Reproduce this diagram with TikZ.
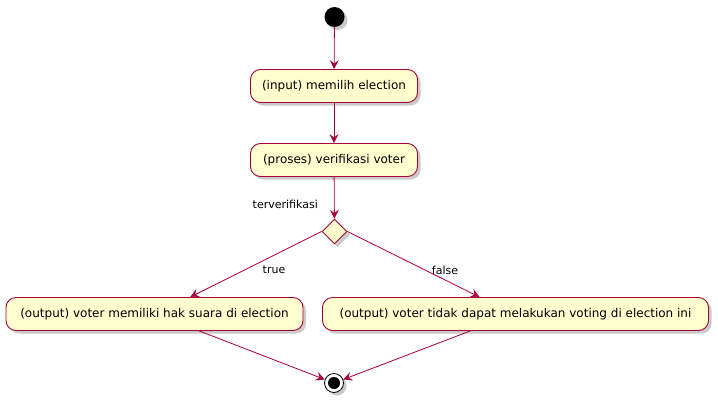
\documentclass[tikz,border=0pt]{standalone}
\usepackage{fontspec}
\setmainfont{DejaVu Sans}
\usetikzlibrary{arrows.meta,shapes.geometric,shadows,calc}
\definecolor{pborder}{HTML}{A80036}
\definecolor{pfill}{HTML}{FEFECE}
\tikzset{
  shad/.style={drop shadow={shadow xshift=3pt,shadow yshift=-3pt,fill=black!35,opacity=0.6}},
  act/.style={draw=pborder,fill=pfill,rounded corners=10pt,line width=0.9pt,shad,
    font=\fontsize{12}{14}\selectfont,inner sep=0pt,minimum height=33pt},
  dec/.style={diamond,draw=pborder,fill=pfill,line width=0.9pt,shad,inner sep=0pt,
    minimum width=25pt,minimum height=25pt},
  flow/.style={draw=pborder,line width=0.8pt,-{Stealth[length=9pt,width=9pt,inset=3.5pt]}},
  lbl/.style={font=\fontsize{11}{13}\selectfont,inner sep=0pt}
}
\begin{document}
\begin{tikzpicture}[x=1pt,y=-1pt]
\useasboundingbox (0,0) rectangle (718,402);
\node[circle,fill=black,inner sep=0pt,minimum size=20pt,shad] (s) at (334.5,17) {};
\node[act,minimum width=167pt] (b1) at (334,86) {(input) memilih election};
\node[act,minimum width=167pt] (b2) at (334,160) {(proses) verifikasi voter};
\node[dec] (d) at (334.5,231.5) {};
\node[act,minimum width=297pt] (b3) at (154.5,314) {(output) voter memiliki hak suara di election};
\node[act,minimum width=386pt] (b4) at (515.5,314) {(output) voter tidak dapat melakukan voting di election ini};
\node[circle,draw=black,fill=white,line width=0.8pt,inner sep=0pt,minimum size=19pt,shad] (e) at (334,383) {};
\node[circle,fill=black,inner sep=0pt,minimum size=12pt] (ei) at (e) {};
\node[lbl,anchor=east] (tv) at (318,204) {terverifikasi};
\node[lbl] (lt) at (274,270) {true};
\node[lbl] (lf) at (445,270) {false};
\draw[flow] (s) -- (b1);
\draw[flow] (b1) -- (b2);
\draw[flow] (b2) -- (d);
\draw[flow] (d.west) -- ($(b3.north west)!0.62!(b3.north east)$);
\draw[flow] (d.east) -- ($(b4.north west)!0.407!(b4.north east)$);
\draw[flow] ($(b3.south west)!0.65!(b3.south east)$) -- (e);
\draw[flow] ($(b4.south west)!0.383!(b4.south east)$) -- (e);
\end{tikzpicture}
\end{document}
